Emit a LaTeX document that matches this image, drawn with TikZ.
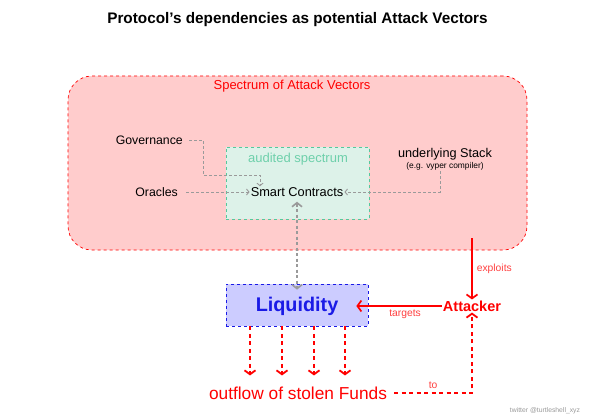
\documentclass[tikz,border=0pt]{standalone}
\usepackage{fontspec}
\setmainfont{Liberation Sans}
\usepackage{xcolor}
\usetikzlibrary{arrows.meta,positioning}
\definecolor{avred}{HTML}{FF0000}
\definecolor{avpink}{HTML}{FFCCCC}
\definecolor{avgray}{HTML}{9A9A9A}
\definecolor{audline}{HTML}{55C89C}
\definecolor{audfill}{HTML}{DDF2E9}
\definecolor{liqblue}{HTML}{1A1AE6}
\definecolor{liqfill}{HTML}{CCCCFF}

\begin{document}
\begin{tikzpicture}[
    x=1pt,y=-1pt,
    every node/.style={font=\fontsize{12.3}{14}\selectfont,align=center,inner sep=1pt},
    zonebox/.style={rectangle,rounded corners=24pt,draw=avred,dashed,fill=avpink,line width=0.7pt},
    audbox/.style={rectangle,draw=audline,dashed,fill=audfill,line width=0.7pt},
    liqbox/.style={rectangle,draw=liqblue,dashed,fill=liqfill,line width=0.7pt},
    garr/.style={-{Straight Barb[length=2.5pt,width=6pt]},avgray,line width=0.9pt,dash pattern=on 3pt off 2pt},
    sarr/.style={{Straight Barb[length=4pt,width=10pt]}-{Straight Barb[length=4pt,width=10pt]},avgray,line width=1.6pt,dash pattern=on 3pt off 2.5pt},
    rarr/.style={-{Straight Barb[length=4pt,width=11pt]},avred,line width=1.7pt},
    outarr/.style={-{Straight Barb[length=4pt,width=11pt]},avred,line width=1.8pt,dash pattern=on 4pt off 3.5pt},
    tag/.style={font=\fontsize{10.3}{12}\selectfont,text=avred!75}
  ]
    \useasboundingbox[fill=white] (0,0) rectangle (595,420);
    \node[font=\bfseries\fontsize{15.3}{18}\selectfont] (title) at (297.5,20) {Protocol’s dependencies as potential Attack Vectors};

    % attack surface and audited part
    \node[zonebox,minimum width=459pt,minimum height=174pt] (zone) at (297.5,163) {};
    \node[text=avred,font=\fontsize{13}{15}\selectfont] (zonelbl) at (292,86) {Spectrum of Attack Vectors};
    \node[audbox,minimum width=143pt,minimum height=72pt] (aud) at (297.5,183) {};
    \node[text=audline!85,font=\fontsize{13}{15}\selectfont] (audlbl) at (298,159) {audited spectrum};
    \node[font=\fontsize{12.8}{15}\selectfont] (sc) at (297,192) {Smart Contracts};

    % dependencies
    \node[anchor=east] (gov) at (184,140) {Governance};
    \node[anchor=east] (orc) at (179,192) {Oracles};
    \node[font=\fontsize{12.7}{15}\selectfont] (stack) at (445,154) {underlying Stack};
    \node[font=\fontsize{8.4}{10}\selectfont,below=0pt of stack] (stacknote) {(e.g. vyper compiler)};
    \coordinate (govbend) at (260,175);
    \draw[garr] (gov.east) ++(5,0) -| (203,175) -- (govbend) -- (govbend |- sc.north);
    \draw[garr] (orc.east) ++(7,0) -- (orc.east -| sc.west);
    \draw[garr] (stacknote.south -| 440,0) -- (440,192) -- (sc.east);

    % liquidity and attacker
    \node[liqbox,minimum width=142pt,minimum height=42pt] (liq) at (297,305) {};
    \node[font=\bfseries\fontsize{19.8}{22}\selectfont,text=liqblue] (liqlbl) at (297,306) {Liquidity};
    \node[font=\bfseries\fontsize{14.5}{17}\selectfont,text=avred] (att) at (472,306) {Attacker};
    \node[font=\fontsize{17.3}{20}\selectfont,text=avred] (funds) at (298,393) {outflow of stolen Funds};
    \draw[sarr,shorten <=4pt,shorten >=-6pt] (sc.south) -- (liq.north);

    \coordinate (hit) at (472,238);
    \draw[rarr] (hit) -- (att.north) node[tag,midway,right=3pt] {exploits};
    \draw[rarr,shorten >=-12pt] (att.west) -- (att.west -| liq.east) node[tag,midway,below=2pt] {targets};
    \foreach \dx in {-47,-15,17,48}
      \draw[outarr] ([xshift=\dx pt]liq.south) -- ([xshift=\dx pt,yshift=10pt]liq.south |- funds.north);
    \draw[outarr] ([xshift=6pt]funds.east) -| (att.south) node[tag,pos=0.25,above=3pt] {to};

    \node[font=\fontsize{6.8}{8}\selectfont,text=avgray] (credit) at (545,411) {twitter @turtleshell\_xyz};
  \end{tikzpicture}
\end{document}
